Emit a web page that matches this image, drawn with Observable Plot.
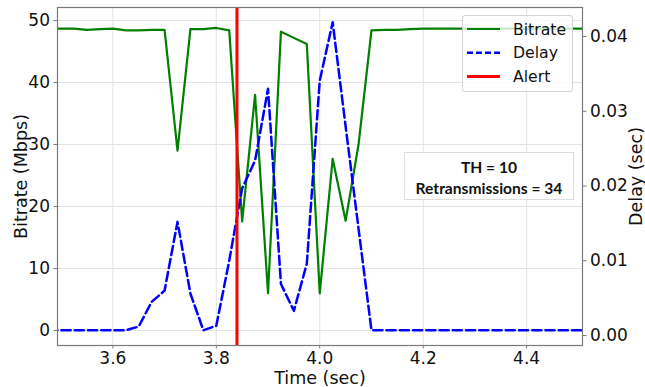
<!DOCTYPE html>
<html>
<head>
<meta charset="utf-8">
<script src="https://cdn.jsdelivr.net/npm/d3@7"></script>
<script src="https://cdn.jsdelivr.net/npm/@observablehq/plot@0.6"></script>
<style>
  body { margin: 0; background: #fff; }
  #wrap { position: relative; width: 645px; height: 387px; font-family: "DejaVu Sans", sans-serif; }
  #wrap svg g[aria-label$="axis label"] { font-size: 17.5px; }
  #legend { position: absolute; left: 462px; top: 15px; width: 111px; height: 77px; box-sizing: border-box;
            border: 1px solid #d4d4d4; border-radius: 3px; background: rgba(255,255,255,0.8); }
  #note { position: absolute; left: 404px; top: 152px; width: 170px; height: 48px; box-sizing: border-box;
          border: 1px solid #dcdcdc; background: #fff; font-family: Lato, "Noto Sans", sans-serif;
          font-weight: bold; font-size: 15.6px; text-align: center; line-height: 21px; padding-top: 4px; color: #111; }
</style>
</head>
<body>
<div id="wrap"></div>
<script>
// ---- data ----
const times = [3.475, 3.5, 3.525, 3.55, 3.575, 3.6, 3.625, 3.65, 3.675, 3.7,
  3.725, 3.75, 3.775, 3.8, 3.825, 3.85, 3.875, 3.9, 3.925, 3.95,
  3.975, 4.0, 4.025, 4.05, 4.075, 4.1, 4.125, 4.15, 4.175, 4.2,
  4.225, 4.25, 4.275, 4.3, 4.325, 4.35, 4.375, 4.4, 4.425, 4.45,
  4.475, 4.5, 4.525];
const bitrate = [48.7, 48.7, 48.7, 48.5, 48.6, 48.7, 48.4, 48.4, 48.5, 48.5,
  29.0, 48.6, 48.6, 48.8, 48.4, 17.6, 38.0, 6.0, 48.2, 47.2,
  46.2, 6.0, 27.7, 17.7, 30.0, 48.4, 48.5, 48.5, 48.6, 48.7,
  48.7, 48.7, 48.7, 48.7, 48.7, 48.7, 48.7, 48.7, 48.7, 48.7,
  48.7, 48.7, 48.7];
const delay = [0.0007, 0.0007, 0.0007, 0.0007, 0.0007, 0.0007, 0.0007, 0.0012, 0.0045, 0.0060,
  0.0152, 0.0056, 0.0007, 0.0013, 0.0100, 0.0197, 0.0234, 0.0330, 0.0069, 0.0033,
  0.0096, 0.0341, 0.0419, 0.0280, 0.0143, 0.0007, 0.0007, 0.0007, 0.0007, 0.0007,
  0.0007, 0.0007, 0.0007, 0.0007, 0.0007, 0.0007, 0.0007, 0.0007, 0.0007, 0.0007,
  0.0007, 0.0007, 0.0007];
const alertTime = [3.84];
const xTicks = [3.6, 3.8, 4.0, 4.2, 4.4];
const bitrateTicks = [0, 10, 20, 30, 40, 50];
const delayTicks = [0.00, 0.01, 0.02, 0.03, 0.04];
const seriesNames = ["Bitrate", "Delay", "Alert"];
const noteLines = ["TH = 10", "Retransmissions = 34"];

// ---- scales ----
const xDomain = [3.493, 4.508];
const leftDomain = [-2.42, 52.1];
const rightDomain = [-0.001338, 0.04388];
const toLeft = d3.scaleLinear().domain(rightDomain).range(leftDomain);

const rows = times.map((t, i) => ({t, bitrate: bitrate[i], delayL: toLeft(delay[i])}));

const gridColor = "#e3e3e3";
const axisColor = "#7a7a7a";

const chart = Plot.plot({
  width: 645, height: 387,
  marginLeft: 57, marginRight: 63, marginTop: 7, marginBottom: 42,
  style: {fontFamily: "DejaVu Sans, sans-serif", fontSize: "17px", color: "#111", background: "transparent"},
  x: {domain: xDomain},
  y: {domain: leftDomain},
  marks: [
    Plot.gridX(xTicks, {stroke: gridColor, strokeOpacity: 1}),
    Plot.gridY(bitrateTicks, {stroke: gridColor, strokeOpacity: 1}),
    Plot.line(rows, {x: "t", y: "bitrate", stroke: "#008000", strokeWidth: 2.2, clip: true}),
    Plot.line(rows, {x: "t", y: "delayL", stroke: "#0000ff", strokeWidth: 2.5, strokeDasharray: "9.25,4", clip: true}),
    Plot.ruleX(alertTime, {stroke: "#ff0000", strokeWidth: 3}),
    Plot.frame({stroke: axisColor, strokeWidth: 1.2}),
    Plot.axisX(xTicks, {tickFormat: d => d.toFixed(1), tickSize: 3.5, tickPadding: 2.5, stroke: axisColor,
      label: "Time (sec)", labelAnchor: "center", labelArrow: "none", labelOffset: 38, fill: "#111"}),
    Plot.axisY(bitrateTicks, {anchor: "left", tickSize: 3.5, tickPadding: 4, stroke: axisColor,
      label: "Bitrate (Mbps)", labelAnchor: "center", labelArrow: "none", labelOffset: 43, fill: "#111"}),
    Plot.axisY(delayTicks.map(v => toLeft(v)), {anchor: "right", tickSize: 3.5, tickPadding: 4, stroke: axisColor,
      tickFormat: d => (Math.round(toLeft.invert(d) * 100) / 100).toFixed(2),
      label: "Delay (sec)", labelAnchor: "center", labelArrow: "none", labelOffset: 59, fill: "#111"})
  ]
});

const wrap = document.getElementById("wrap");
wrap.appendChild(chart);

// legend
const legend = document.createElement("div");
legend.id = "legend";
const styles = [
  {stroke: "#008000", dash: null, w: 2.2},
  {stroke: "#0000ff", dash: "6,3", w: 2.5},
  {stroke: "#ff0000", dash: null, w: 3}
];
let svg = '<svg width="111" height="77" xmlns="http://www.w3.org/2000/svg" style="position:absolute;left:-1px;top:-1px">';
seriesNames.forEach((name, i) => {
  const y = 14 + i * 23.7;
  const s = styles[i];
  svg += `<line x1="5" x2="38" y1="${y}" y2="${y}" stroke="${s.stroke}" stroke-width="${s.w}" ${s.dash ? `stroke-dasharray="${s.dash}"` : ""}/>`;
  svg += `<text x="51" y="${y}" dy="0.36em" font-family="DejaVu Sans" font-size="15.7" fill="#111">${name}</text>`;
});
svg += '</svg>';
legend.innerHTML = svg;
wrap.appendChild(legend);

// note box
const note = document.createElement("div");
note.id = "note";
note.innerHTML = noteLines.map(l => `<div>${l}</div>`).join("");
wrap.appendChild(note);
</script>
</body>
</html>
